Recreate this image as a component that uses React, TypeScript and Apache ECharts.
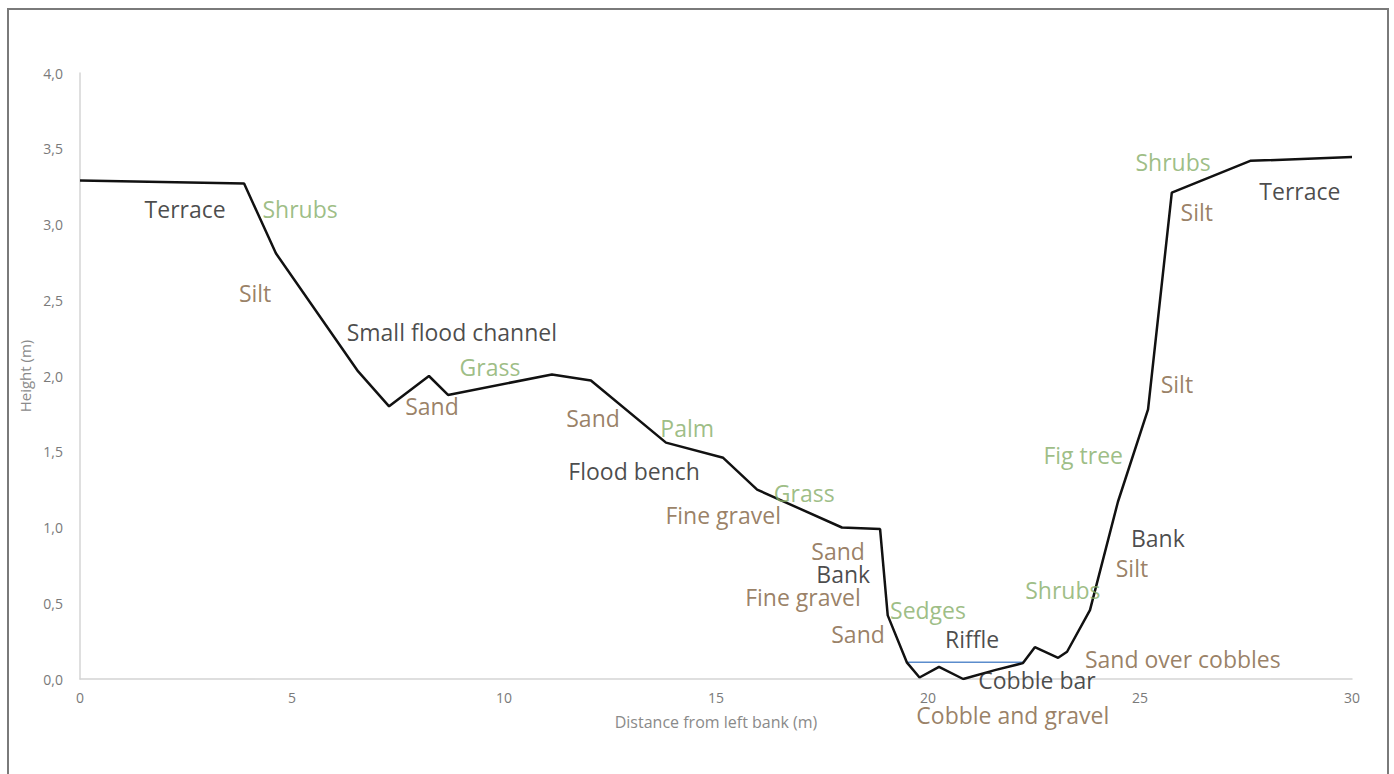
import React, { useEffect, useRef } from "react";
import * as echarts from "echarts";

// Cross-section profile: distance from left bank (m) vs height (m)
const profileX = [0, 3.87, 4.62, 6.56, 7.29, 8.23, 8.68, 11.13, 12.05, 13.82, 15.17, 15.97, 17.97, 18.87, 19.05, 19.5, 19.8, 20.26, 20.83, 21.6, 22.24, 22.52, 23.07, 23.28, 23.82, 24.48, 25.19, 25.75, 27.6, 30.0];
const profileY = [3.29, 3.27, 2.81, 2.03, 1.8, 2.0, 1.875, 2.01, 1.97, 1.56, 1.46, 1.25, 1.0, 0.99, 0.42, 0.11, 0.01, 0.08, 0.0, 0.06, 0.105, 0.21, 0.14, 0.18, 0.455, 1.17, 1.78, 3.21, 3.42, 3.445];

// Water surface across the riffle
const waterX = [19.5, 22.24];
const waterY = [0.11, 0.11];

// Annotations: text, position, and kind (landform / sediment / vegetation)
const labelText = [
  "Terrace", "Shrubs", "Silt", "Small flood channel", "Grass", "Sand", "Sand", "Palm",
  "Flood bench", "Grass", "Fine gravel", "Sand", "Bank", "Fine gravel", "Sand", "Sedges",
  "Riffle", "Sand over cobbles", "Cobble bar", "Cobble and gravel", "Shrubs", "Silt", "Bank",
  "Fig tree", "Silt", "Silt", "Terrace", "Shrubs",
];
const labelX = [
  2.48, 5.19, 4.13, 8.77, 9.67, 8.3, 12.1, 14.32,
  13.07, 17.08, 15.17, 17.88, 18.0, 17.05, 18.35, 20.0,
  21.04, 26.01, 22.57, 22.0, 23.18, 24.81, 25.42,
  23.66, 25.87, 26.34, 28.77, 25.78,
];
const labelY = [
  3.1, 3.1, 2.55, 2.29, 2.06, 1.8, 1.72, 1.66,
  1.37, 1.23, 1.08, 0.845, 0.69, 0.54, 0.3, 0.455,
  0.264, 0.13, -0.007, -0.24, 0.59, 0.73, 0.93,
  1.48, 1.95, 3.08, 3.22, 3.41,
];
const labelKind = [
  "land", "veg", "sed", "land", "veg", "sed", "sed", "veg",
  "land", "veg", "sed", "sed", "land", "sed", "sed", "veg",
  "land", "sed", "land", "sed", "veg", "sed", "land",
  "veg", "sed", "sed", "land", "veg",
];

const kindColor: Record<string, string> = {
  land: "#1c1c1c",
  sed: "#805f3e",
  veg: "#85ad66",
};

export default function App() {
  const ref = useRef<HTMLDivElement>(null);

  useEffect(() => {
    document.body.style.margin = "0";
    if (!ref.current) return;
    const chart = echarts.init(ref.current, undefined, { renderer: "svg" });

    const profile = profileX.map((x, i) => [x, profileY[i]]);
    const water = waterX.map((x, i) => [x, waterY[i]]);
    const labels = labelText.map((t, i) => ({
      name: t,
      value: [labelX[i], labelY[i]],
      label: { color: kindColor[labelKind[i]] },
    }));

    chart.setOption({
      animation: false,
      backgroundColor: "#ffffff",
      textStyle: { fontFamily: "Open Sans" },
      graphic: [
        {
          type: "rect",
          shape: { x: 8, y: 9, width: 1380, height: 800 },
          style: { fill: "none", stroke: "#7a7a7a", lineWidth: 2 },
          silent: true,
        },
      ],
      grid: { left: 80, right: 42, top: 73, bottom: 95 },
      xAxis: {
        type: "value",
        min: 0,
        max: 30,
        interval: 5,
        name: "Distance from left bank (m)",
        nameLocation: "middle",
        nameGap: 35,
        nameTextStyle: { color: "#8a8a8a", fontSize: 16, fontFamily: "Open Sans" },
        axisLine: { show: true, lineStyle: { color: "#d4d4d4", width: 1.5 } },
        axisTick: { show: false },
        splitLine: { show: false },
        axisLabel: { color: "#7a7a7a", fontSize: 14, margin: 11, fontFamily: "Open Sans" },
      },
      yAxis: {
        type: "value",
        min: 0,
        max: 4,
        interval: 0.5,
        name: "Height (m)",
        nameLocation: "middle",
        nameGap: 47,
        nameTextStyle: { color: "#8a8a8a", fontSize: 15, fontFamily: "Open Sans" },
        axisLine: { show: true, lineStyle: { color: "#d4d4d4", width: 1.5 } },
        axisTick: { show: false },
        splitLine: { show: false },
        axisLabel: {
          color: "#7a7a7a",
          fontSize: 14,
          margin: 17,
          fontFamily: "Open Sans",
          formatter: (v: number) => v.toFixed(1).replace(".", ","),
        },
      },
      series: [
        {
          type: "line",
          data: water,
          symbol: "none",
          lineStyle: { color: "#5b8ccc", width: 1.5 },
          z: 2,
          silent: true,
        },
        {
          type: "line",
          data: profile,
          symbol: "none",
          lineStyle: { color: "#111111", width: 2.5 },
          z: 3,
          silent: true,
        },
        {
          type: "scatter",
          data: labels,
          symbolSize: 0,
          clip: false,
          silent: true,
          z: 4,
          label: {
            show: true,
            position: "inside",
            formatter: (p: any) => p.name,
            fontSize: 23,
            lineHeight: 23,
            fontFamily: "Open Sans",
          },
        },
      ],
    });

    return () => chart.dispose();
  }, []);

  return <div ref={ref} style={{ width: 1394, height: 774 }} />;
}
